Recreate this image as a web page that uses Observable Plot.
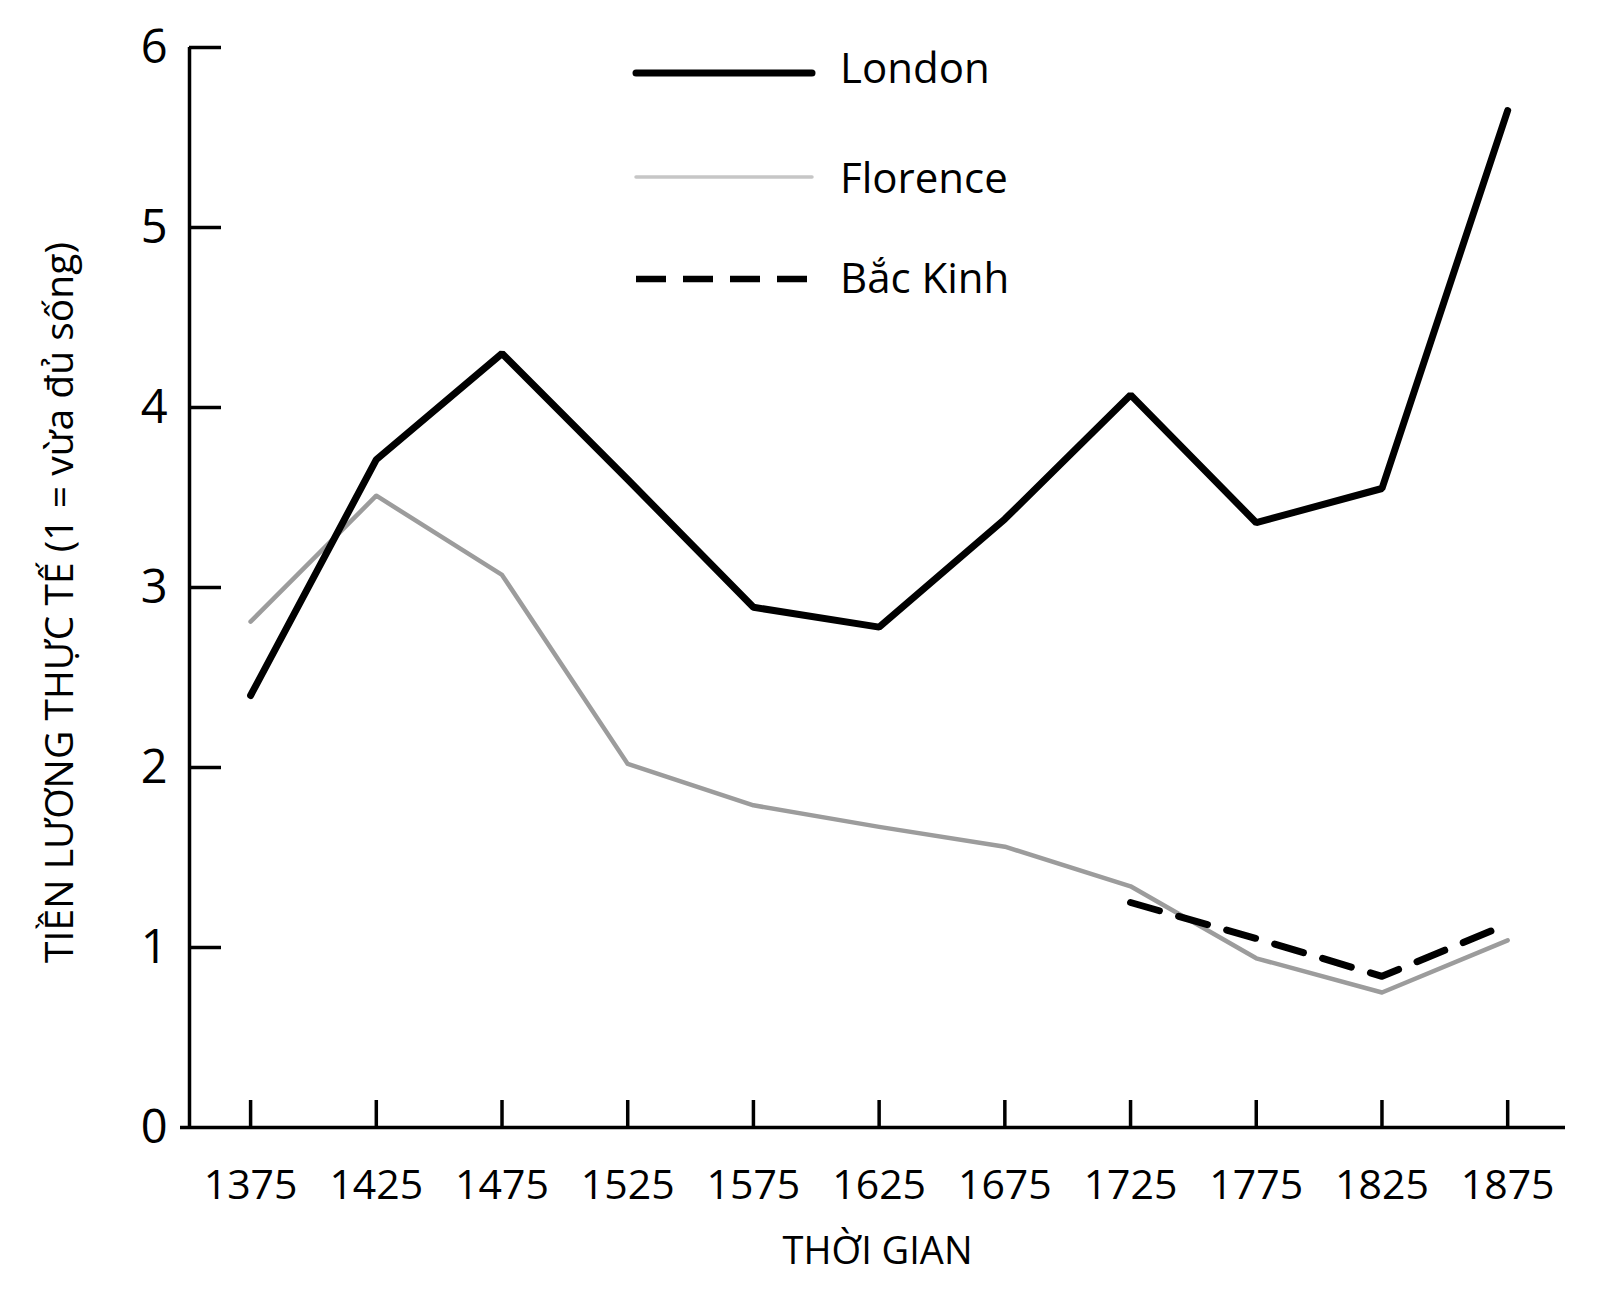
<!DOCTYPE html>
<html>
<head>
<meta charset="utf-8">
<script src="https://cdn.jsdelivr.net/npm/d3@7"></script>
<script src="https://cdn.jsdelivr.net/npm/@observablehq/plot@0.6"></script>
<style>
  html, body { margin: 0; padding: 0; background: #fff; }
  #wrap { position: relative; width: 1600px; height: 1314px; font-family: "Open Sans", sans-serif; }
  #legend { position: absolute; left: 0; top: 0; }
</style>
</head>
<body>
<div id="wrap"></div>
<script>
// ---- data ----
const years = [1375, 1425, 1475, 1525, 1575, 1625, 1675, 1725, 1775, 1825, 1875];
const london = [2.40, 3.71, 4.30, 3.60, 2.89, 2.78, 3.38, 4.07, 3.36, 3.55, 5.65];
const florence = [2.81, 3.51, 3.07, 2.02, 1.79, 1.67, 1.56, 1.34, 0.94, 0.75, 1.04];
const beijingYears = [1725, 1775, 1825, 1875];
const beijing = [1.25, 1.05, 0.84, 1.13];
const xTicks = [1375, 1425, 1475, 1525, 1575, 1625, 1675, 1725, 1775, 1825, 1875];
const yTicks = [0, 1, 2, 3, 4, 5, 6];
const seriesNames = ["London", "Florence", "Bắc Kinh"];
const yLabel = "TIỀN LƯƠNG THỰC TẾ (1 = vừa đủ sống)";
const xLabel = "THỜI GIAN";

const londonData = years.map((x, i) => ({x, y: london[i]}));
const florenceData = years.map((x, i) => ({x, y: florence[i]}));
const beijingData = beijingYears.map((x, i) => ({x, y: beijing[i]}));

const xDomain = [1350.7, 1898];
const FONT = "Open Sans";

const chart = Plot.plot({
  width: 1600,
  height: 1314,
  marginLeft: 189,
  marginRight: 35,
  marginTop: 47,
  marginBottom: 187,
  style: {fontFamily: FONT, background: "#fff", color: "#000"},
  x: {domain: xDomain},
  y: {domain: [0, 6]},
  marks: [
    Plot.axisX(xTicks, {tickSize: 0, tickPadding: 42, fontSize: 41, tickFormat: d => String(d), label: null}),
    Plot.axisY(yTicks, {tickSize: 0, tickPadding: 22, fontSize: 47, tickFormat: d => String(d), label: null}),
    Plot.ruleY([0], {insetLeft: -9, stroke: "#000", strokeWidth: 3.5}),
    Plot.ruleX([xDomain[0]], {insetBottom: -2, stroke: "#000", strokeWidth: 3.5}),
    Plot.ruleX(xTicks, {y1: 0, y2: 0, insetTop: -27, stroke: "#000", strokeWidth: 3.5}),
    Plot.ruleY(yTicks.filter(d => d > 0), {x1: xDomain[0], x2: xDomain[0], insetRight: -32, stroke: "#000", strokeWidth: 3.5}),
    Plot.line(florenceData, {x: "x", y: "y", stroke: "#9c9c9c", strokeWidth: 4.5, strokeLinejoin: "round"}),
    Plot.line(beijingData, {x: "x", y: "y", stroke: "#000", strokeWidth: 7, strokeDasharray: "30,20"}),
    Plot.line(londonData, {x: "x", y: "y", stroke: "#000", strokeWidth: 7, strokeLinecap: "round", strokeLinejoin: "miter"}),
    Plot.text([xLabel], {frameAnchor: "bottom", lineAnchor: "bottom", dy: 136, fontSize: 38, fill: "#000"}),
    Plot.text([yLabel], {frameAnchor: "left", textAnchor: "middle", lineAnchor: "bottom", rotate: -90, dx: -117, dy: 15, fontSize: 39, fill: "#000"})
  ]
});

const wrap = document.getElementById("wrap");
wrap.appendChild(chart);

// ---- legend overlay ----
const legendStyles = [
  {stroke: "#000", width: 7, dash: null, lineY: 73, textY: 83},
  {stroke: "#c6c6c6", width: 3.5, dash: null, lineY: 177, textY: 193},
  {stroke: "#000", width: 6.5, dash: "30,17", lineY: 279, textY: 293}
];
const ns = "http://www.w3.org/2000/svg";
const lg = document.createElementNS(ns, "svg");
lg.setAttribute("id", "legend");
lg.setAttribute("width", 1600);
lg.setAttribute("height", 330);
seriesNames.forEach((name, i) => {
  const s = legendStyles[i];
  const ln = document.createElementNS(ns, "line");
  ln.setAttribute("x1", 636); ln.setAttribute("x2", 812);
  ln.setAttribute("y1", s.lineY); ln.setAttribute("y2", s.lineY);
  ln.setAttribute("stroke", s.stroke);
  ln.setAttribute("stroke-width", s.width);
  ln.setAttribute("stroke-linecap", "round");
  if (s.dash) { ln.setAttribute("stroke-dasharray", s.dash); ln.setAttribute("stroke-linecap", "butt"); }
  lg.appendChild(ln);
  const tx = document.createElementNS(ns, "text");
  tx.setAttribute("x", 840); tx.setAttribute("y", s.textY);
  tx.setAttribute("font-family", FONT);
  tx.setAttribute("font-size", 42);
  tx.setAttribute("fill", "#000");
  tx.textContent = name;
  lg.appendChild(tx);
});
wrap.appendChild(lg);
</script>
</body>
</html>
